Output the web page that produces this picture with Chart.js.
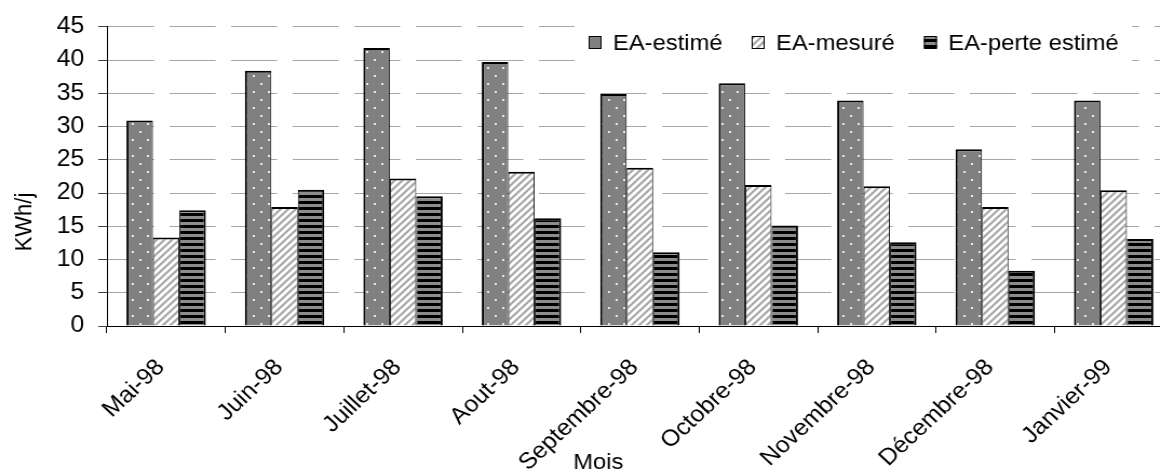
<!DOCTYPE html>
<html lang="fr">
<head>
<meta charset="utf-8">
<title>Energie EA par mois</title>
<script src="https://cdn.jsdelivr.net/npm/chart.js@4.4.1/dist/chart.umd.min.js"></script>
<style>
    html, body { margin: 0; padding: 0; background: #fff; overflow: hidden; }
    /* le graphe d'origine est légèrement étiré en largeur */
    #cadre { width: 1088px; height: 473px; transform: scaleX(1.08); transform-origin: 0 0; }
</style>
</head>
<body>
<div id="cadre"><canvas id="graphe" width="1088" height="473"></canvas></div>
<script>
// Données (KWh/j)
const mois = ['Mai-98', 'Juin-98', 'Juillet-98', 'Aout-98', 'Septembre-98', 'Octobre-98', 'Novembre-98', 'Décembre-98', 'Janvier-99'];
const eaEstime = [30.9, 38.4, 41.8, 39.7, 34.9, 36.5, 33.9, 26.6, 33.9];
const eaMesure = [13.3, 17.9, 22.2, 23.2, 23.8, 21.2, 21.0, 17.9, 20.4];
const eaPerteEstime = [17.4, 20.5, 19.5, 16.2, 11.1, 15.1, 12.6, 8.3, 13.1];
const axeY = { min: 0, max: 45, pas: 5 };

const police = '"Liberation Sans", Arial, sans-serif';
const canvas = document.getElementById('graphe');
const ctx = canvas.getContext('2d');

// Motifs de remplissage des barres
function creerMotif(largeur, hauteur, dessiner) {
    const tuile = document.createElement('canvas');
    tuile.width = largeur;
    tuile.height = hauteur;
    dessiner(tuile.getContext('2d'));
    return ctx.createPattern(tuile, 'repeat');
}

const motifPoints = creerMotif(14, 16, g => {
    g.fillStyle = '#808080';
    g.fillRect(0, 0, 14, 16);
    g.fillStyle = '#e8e8e8';
    g.fillRect(3, 3, 2, 2);
    g.fillRect(10, 11, 2, 2);
});

const motifDiagonal = creerMotif(7, 7, g => {
    g.fillStyle = '#fff';
    g.fillRect(0, 0, 7, 7);
    g.strokeStyle = '#a8a8a8';
    g.lineWidth = 2.2;
    g.beginPath();
    g.moveTo(-2, 9); g.lineTo(9, -2);
    g.moveTo(-2, 2); g.lineTo(2, -2);
    g.moveTo(5, 9); g.lineTo(9, 5);
    g.stroke();
});

const motifRayures = creerMotif(4, 6, g => {
    g.fillStyle = '#8c8c8c';
    g.fillRect(0, 0, 4, 3);
    g.fillStyle = '#000';
    g.fillRect(0, 3, 4, 3);
});

// Titres des axes et légende dessinés à la main
const titresEtLegende = {
    id: 'titresEtLegende',
    afterDraw(chart) {
        const c = chart.ctx;
        c.save();
        c.fillStyle = '#000';
        c.font = '22px ' + police;

        // titre de l'axe Y
        c.save();
        c.translate(23, 222);
        c.rotate(-Math.PI / 2);
        c.textAlign = 'center';
        c.textBaseline = 'middle';
        c.fillText('KWh/j', 0, 0);
        c.restore();

        // titre de l'axe X
        c.textAlign = 'center';
        c.textBaseline = 'alphabetic';
        c.fillText('Mois', 554, 469);

        // légende
        c.fillStyle = '#fff';
        c.fillRect(532, 14, 516, 56);
        c.textAlign = 'left';
        let x = 545;
        chart.data.datasets.forEach(ds => {
            c.fillStyle = ds.backgroundColor;
            c.fillRect(x, 36, 12, 13);
            c.strokeStyle = '#000';
            c.lineWidth = 1;
            c.strokeRect(x + 0.5, 36.5, 11, 12);
            c.fillStyle = '#000';
            c.fillText(ds.label, x + 22.5, 50);
            x += 22.5 + c.measureText(ds.label).width + 27;
        });
        c.restore();
    }
};

const graphe = new Chart(canvas, {
    type: 'bar',
    data: {
        labels: mois,
        datasets: [
            { label: 'EA-estimé', data: eaEstime, backgroundColor: motifPoints, borderColor: '#000',
              borderWidth: { top: 2, left: 2, right: 1, bottom: 0 } },
            { label: 'EA-mesuré', data: eaMesure, backgroundColor: motifDiagonal, borderColor: '#000',
              borderWidth: { top: 2, left: 1, right: 1, bottom: 0 } },
            { label: 'EA-perte estimé', data: eaPerteEstime, backgroundColor: motifRayures, borderColor: '#000',
              borderWidth: { top: 2, left: 1, right: 2, bottom: 0 } }
        ]
    },
    options: {
        responsive: false,
        animation: false,
        devicePixelRatio: 1,
        layout: { padding: { top: 24, right: 2, left: 0, bottom: 0 } },
        datasets: { bar: { categoryPercentage: 0.67, barPercentage: 1 } },
        plugins: {
            legend: { display: false },
            tooltip: { enabled: false }
        },
        scales: {
            x: {
                afterFit: s => { s.height = 147; },
                grid: { offset: true, drawOnChartArea: false, tickLength: 7, color: '#000', tickColor: '#000' },
                border: { color: '#000', width: 1 },
                ticks: {
                    font: { family: police, size: 23 },
                    color: '#000',
                    minRotation: 45,
                    maxRotation: 45,
                    autoSkip: false,
                    padding: 21,
                    labelOffset: -5
                }
            },
            y: {
                min: axeY.min,
                max: axeY.max,
                afterFit: s => { s.width = 99; },
                grid: { color: '#a6a6a6', tickColor: '#444', tickLength: 8, tickBorderDash: [] },
                border: { color: '#000', width: 1, dash: [42.6, 14.4] },
                ticks: {
                    stepSize: axeY.pas,
                    font: { family: police, size: 23 },
                    color: '#000',
                    padding: 13
                }
            }
        }
    },
    plugins: [titresEtLegende]
});
</script>
</body>
</html>
